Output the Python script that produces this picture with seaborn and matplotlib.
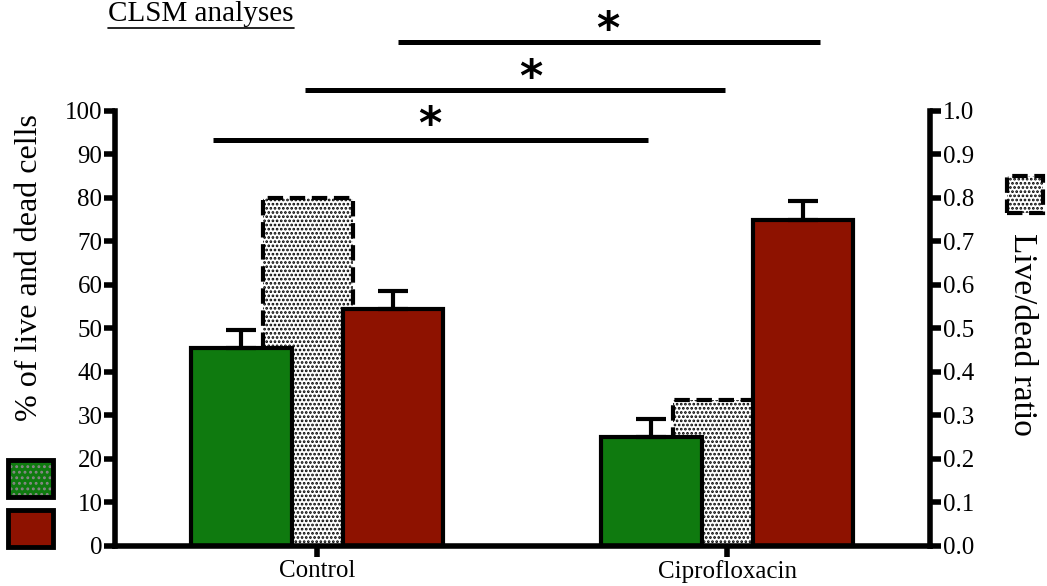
import matplotlib
matplotlib.use("Agg")
import matplotlib.pyplot as plt
import matplotlib.patches as mpatches
from matplotlib.lines import Line2D
import numpy as np
import pandas as pd
import seaborn as sns

# --- data ---
treatments = ["Control", "Ciprofloxacin"]
live_pct = [45.5, 25.0]
dead_pct = [54.5, 75.0]
live_err = [4.2, 4.1]
dead_err = [4.2, 4.2]
live_dead_ratio = [0.80, 0.335]

green = "#0f7a0f"
red = "#8e1200"

sns.set_theme(style="ticks")
plt.rcParams["font.family"] = ["Liberation Serif", "DejaVu Serif"]
plt.rcParams["hatch.linewidth"] = 1.3
for k in ["axes.edgecolor", "text.color", "xtick.color", "ytick.color",
          "axes.labelcolor"]:
    plt.rcParams[k] = "black"

df = pd.DataFrame({
    "treatment": treatments * 2,
    "cells": ["live"] * 2 + ["dead"] * 2,
    "pct": live_pct + dead_pct,
})
ratio_df = pd.DataFrame({"treatment": treatments, "ratio": live_dead_ratio})

fig = plt.figure(figsize=(10.47, 5.86), dpi=100)
ax = fig.add_axes([0.1098, 0.0683, 0.7785, 0.7423])
ax2 = ax.twinx()

# ratio bars on the right axis (drawn behind)
sns.barplot(data=ratio_df, x="treatment", y="ratio", ax=ax2, width=0.22,
            color="white", saturation=1, edgecolor="black", linewidth=3,
            linestyle="--", hatch="....")
for p in ax2.patches:
    p.set_x(p.get_x() - 0.022)

# live / dead bars on the left axis
sns.barplot(data=df, x="treatment", y="pct", hue="cells", ax=ax,
            palette=[green, red], saturation=1, width=0.74, gap=0.335,
            edgecolor="black", linewidth=3, errorbar=None, legend=False)

for cont, errs in zip(ax.containers, [live_err, dead_err]):
    xs = [b.get_x() + b.get_width() / 2 for b in cont]
    ys = [b.get_height() for b in cont]
    ax.errorbar(xs, ys, yerr=[np.zeros(len(errs)), errs], fmt="none",
                ecolor="black", elinewidth=3, capsize=11, capthick=3, zorder=1)

ax.set_zorder(2)
ax2.set_zorder(1)
ax.patch.set_visible(False)

ax.set_xlim(-0.493, 1.495)
ax.set_ylim(0, 100)
ax2.set_ylim(0, 1.0)
ax.set_yticks(np.arange(0, 101, 10))
ax2.set_yticks(np.arange(0, 1.01, 0.1))
ax2.set_yticklabels([f"{v:.1f}" for v in np.arange(0, 1.01, 0.1)])
ax.set_xlabel("")
ax.set_ylabel("")
ax2.set_ylabel("")

for s in ["top", "right"]:
    ax.spines[s].set_visible(False)
for s in ["top", "left", "bottom"]:
    ax2.spines[s].set_visible(False)
for s in ["left", "bottom"]:
    ax.spines[s].set_linewidth(4)
ax2.spines["right"].set_linewidth(4)

ax.tick_params(axis="y", length=8, width=4, labelsize=18, pad=1)
ax.tick_params(axis="x", length=8, width=4, labelsize=18, pad=2)
ax2.tick_params(axis="y", length=8, width=4, labelsize=18, pad=1)

# significance bars
sig_lines = [(-0.254, 0.807, 93.4), (-0.029, 0.995, 104.8), (0.198, 1.227, 115.9)]
sig_stars = [(0.276, 96.6), (0.520, 107.4), (0.710, 118.5)]
for x0, x1, y in sig_lines:
    ax.plot([x0, x1], [y, y], color="black", lw=3.6, clip_on=False,
            solid_capstyle="butt")
for x, y in sig_stars:
    ax.text(x, y, "*", ha="center", va="center", fontsize=32,
            family="DejaVu Sans", weight="bold", clip_on=False)

# axis labels
fig.text(30 / 1047, 1 - 268 / 586, "% of live and dead cells", rotation=90,
         ha="center", va="center", fontsize=23)
fig.text(1022 / 1047, 1 - 334 / 586, "Live/dead ratio", rotation=270,
         ha="center", va="center", fontsize=24)

# legend keys
fig.patches.append(mpatches.Rectangle((0.0076, 0.152), 0.043, 0.063,
                   transform=fig.transFigure, facecolor=green,
                   edgecolor="#888888", hatch="...", linewidth=0))
fig.patches.append(mpatches.Rectangle((0.0076, 0.152), 0.043, 0.063,
                   transform=fig.transFigure, fill=False,
                   edgecolor="black", linewidth=3.5))
fig.patches.append(mpatches.Rectangle((0.0076, 0.0666), 0.043, 0.063,
                   transform=fig.transFigure, facecolor=red,
                   edgecolor="black", linewidth=3.5))
fig.patches.append(mpatches.Rectangle((0.962, 0.636), 0.034, 0.064,
                   transform=fig.transFigure, facecolor="white",
                   edgecolor="black", hatch="....", linewidth=3,
                   linestyle="--"))

# underlined title
title = fig.text(108 / 1047, 1 - 21 / 586, "CLSM analyses", ha="left",
                 va="baseline", fontsize=21)
fig.canvas.draw()
bb = title.get_window_extent().transformed(fig.transFigure.inverted())
fig.lines.append(Line2D([bb.x0, bb.x1], [bb.y0 - 0.001, bb.y0 - 0.001],
                        transform=fig.transFigure, color="black", lw=1.2))

fig.savefig("out.png", dpi=100)
